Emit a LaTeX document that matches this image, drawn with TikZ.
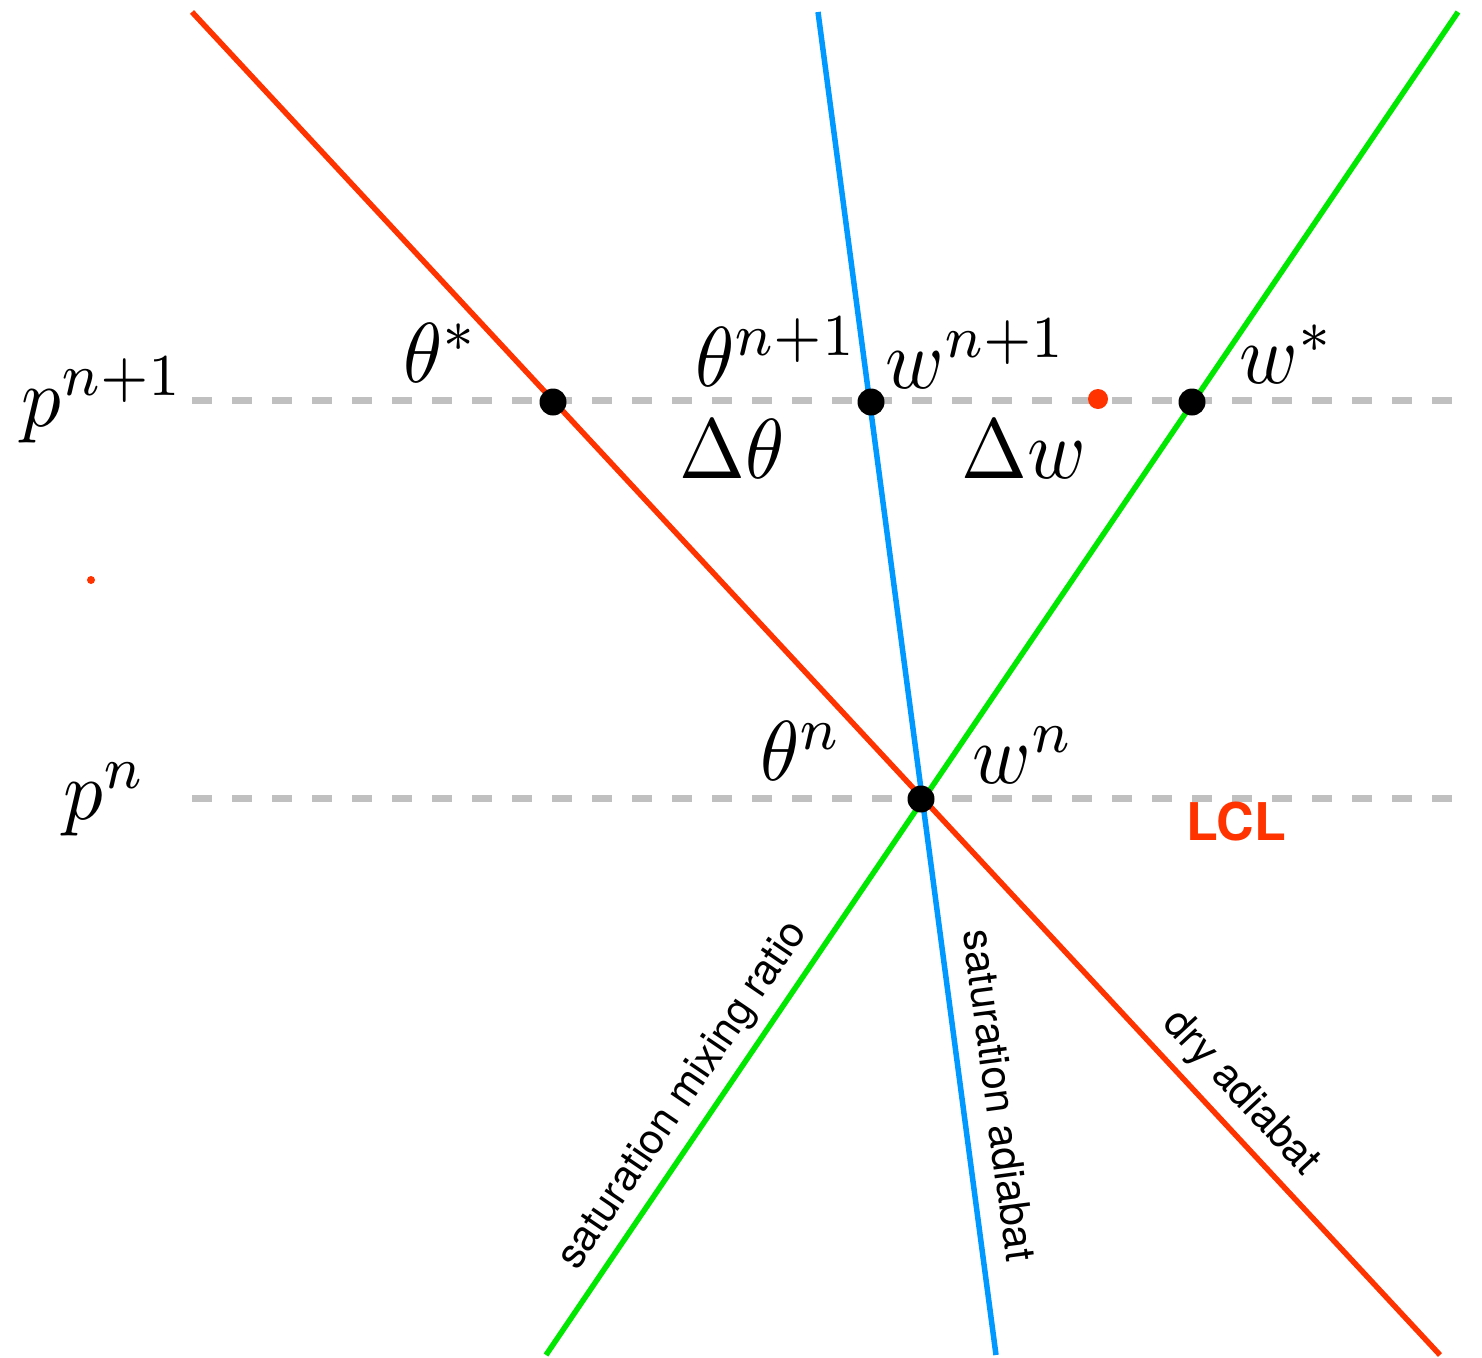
\documentclass[tikz,border=0pt]{standalone}
\usepackage{fontspec}
\newfontfamily\heros{TeX Gyre Heros}
\definecolor{dryred}{RGB}{255,51,0}
\definecolor{satblue}{RGB}{0,153,255}
\definecolor{mixgreen}{RGB}{0,232,0}
\definecolor{levelgray}{RGB}{192,192,192}
\tikzset{
  level/.style={draw=levelgray, line width=7pt, dash pattern=on 20pt off 20pt},
  curve/.style={line width=5.5pt},
  dot/.style={circle, fill=black, inner sep=0pt, minimum size=27pt},
  reddot/.style={circle, fill=dryred, inner sep=0pt, minimum size=#1},
  mathlab/.style={inner sep=0pt, anchor=base west, xscale=7.9, yscale=8.5, font=\fontsize{10}{12}\selectfont},
  linelab/.style={inner sep=0pt, anchor=base, font=\heros\fontsize{42}{46}\selectfont},
}
\begin{document}
\begin{tikzpicture}[x=1pt,y=-1pt]
\useasboundingbox (0,0) rectangle (1482,1357);
% end points
\coordinate (rT) at (192,12);
\coordinate (rB) at (1440,1355);
\coordinate (bT) at (818,12);
\coordinate (bB) at (996,1355);
\coordinate (gT) at (1458,12);
\coordinate (gB) at (546,1355);
\coordinate (lvA1) at (192,400);
\coordinate (lvB1) at (1462,400);
\coordinate (lvA0) at (192,798);
\coordinate (lvB0) at (1462,798);
% pressure levels
\draw[level] (lvA1) -- (lvB1);
\draw[level] (lvA0) -- (lvB0);
% curves
\draw[curve, dryred] (rT) -- (rB);
\draw[curve, mixgreen] (gB) -- (gT);
\draw[curve, satblue] (bT) -- (bB);
% points
\node[dot] (thetastar) at (553,402) {};
\node[dot] (thetanp) at (871,402) {};
\node[dot] (wstar) at (1192,402) {};
\node[dot] (lcl) at (921,799) {};
\node[reddot=20pt] (guess) at (1098,399) {};
\node[reddot=8pt] (stray) at (91,580) {};
% math labels
\node[mathlab] (lpnp) at (20,426) {$p^{n+1}$};
\node[mathlab] (ltstar) at (402,382) {$\theta^{*}$};
\node[mathlab] (ltnp) at (694,386) {$\theta^{n+1}$};
\node[mathlab] (lwnp) at (884,388) {$w^{n+1}$};
\node[mathlab] (lwstar) at (1238,383) {$w^{*}$};
\node[mathlab] (ldt) at (678,478) {$\Delta\theta$};
\node[mathlab] (ldw) at (960,478) {$\Delta w$};
\node[mathlab] (ltn) at (759,780) {$\theta^{n}$};
\node[mathlab] (lwn) at (971,783) {$w^{n}$};
\node[mathlab] (lpn) at (62,819) {$p^{n}$};
\node[inner sep=0pt, anchor=base west, text=dryred, font=\heros\bfseries\fontsize{52}{56}\selectfont] (llcl) at (1186,840) {LCL};
% line labels
\node[linelab, rotate=55.8] (lmix) at (692.4,1102.1) {saturation mixing ratio};
\node[linelab, rotate=-82.45] (lsat) at (985.0,1097.2) {saturation adiabat};
\node[linelab, rotate=-47.1] (ldry) at (1232.7,1101.0) {dry adiabat};
\end{tikzpicture}
\end{document}
